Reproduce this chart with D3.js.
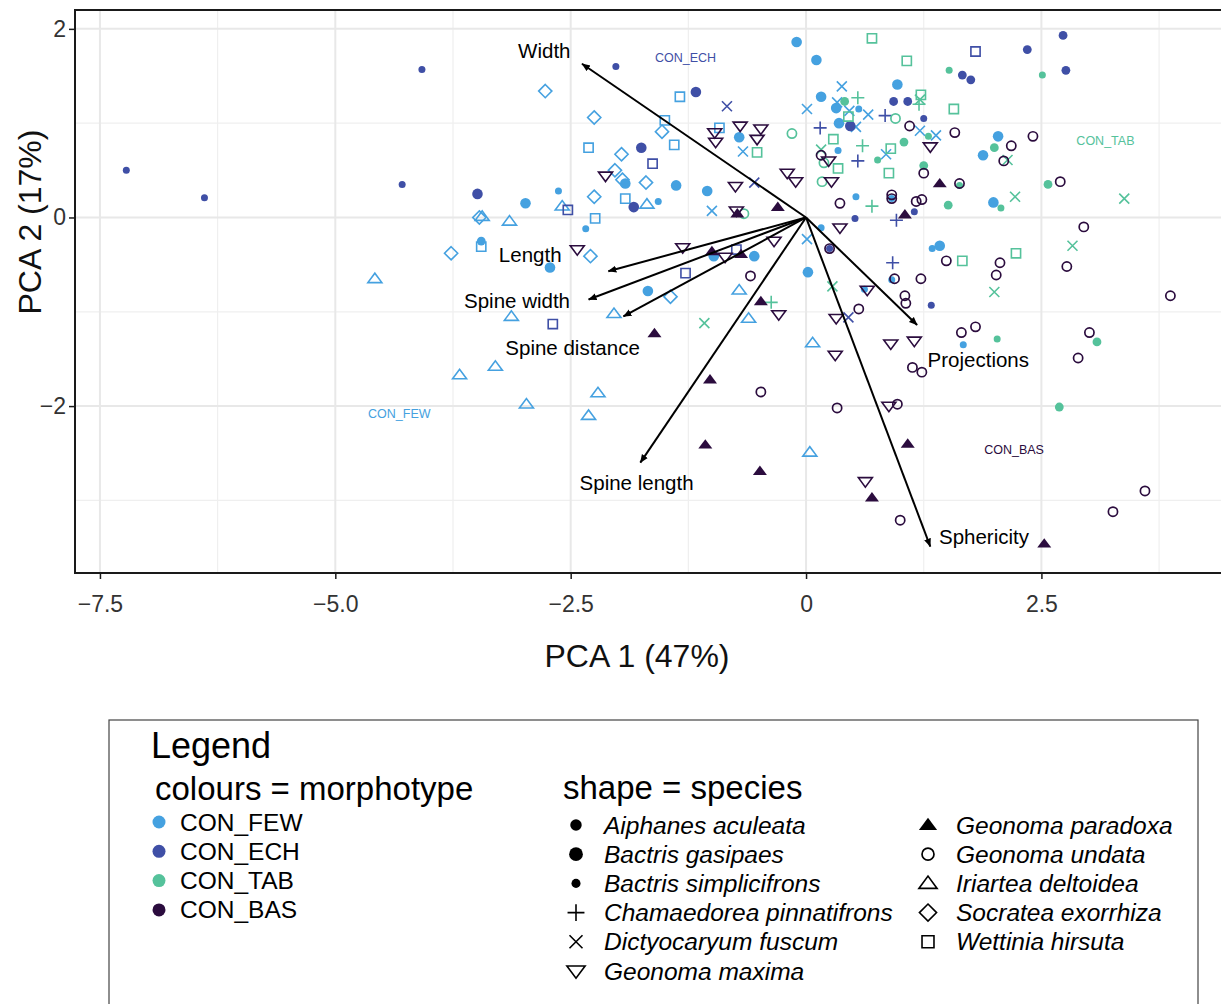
<!DOCTYPE html>
<html>
<head>
<meta charset="utf-8">
<script src="https://cdn.jsdelivr.net/npm/d3@7"></script>
<style>
  body { margin: 0; background: #fff; }
  svg text { font-family: "Liberation Sans", Arial, Helvetica, sans-serif; }
</style>
</head>
<body>
<svg id="PCA_PLOT" width="1221" height="1004"></svg>
<script>
// morphotypes (colour) and species (shape)
var morphotypes = ["CON_FEW", "CON_ECH", "CON_TAB", "CON_BAS"];
var morphColors = ["#45a1e0", "#3f4fa6", "#55c29b", "#2b0c3e"];

var speciesCodes = ["AA", "BG", "BS", "CP", "DF", "GM", "GP", "GU", "ID", "SE", "WH"];
var speciesNames = [
  "Aiphanes aculeata", "Bactris gasipaes", "Bactris simplicifrons",
  "Chamaedorea pinnatifrons", "Dictyocaryum fuscum", "Geonoma maxima",
  "Geonoma paradoxa", "Geonoma undata", "Iriartea deltoidea",
  "Socratea exorrhiza", "Wettinia hirsuta"
];

// [PC1, PC2, species]
var pointsFEW = [
  [-2.98, 0.15, "BG"], [-2.72, -0.53, "BG"], [-0.10, 1.86, "BG"], [0.11, 1.67, "BG"],
  [-0.71, 0.85, "BG"], [-1.92, 0.36, "BG"], [-1.38, 0.34, "BG"], [-1.05, 0.28, "BG"],
  [-0.98, -0.41, "BG"], [-0.55, -0.41, "BG"], [0.02, -0.58, "BG"], [-1.68, -0.78, "BG"],
  [0.97, 1.41, "BG"], [0.16, 1.28, "BG"], [0.32, 1.16, "BG"], [0.35, 1.00, "BG"],
  [2.04, 0.86, "BG"], [1.88, 0.66, "BG"], [1.99, 0.16, "BG"], [1.42, -0.30, "BG"],
  [-3.45, -0.25, "AA"],
  [-2.63, 0.28, "BS"], [-2.34, -0.12, "BS"], [-1.57, 0.17, "BS"], [0.56, 1.15, "BS"],
  [0.34, 0.71, "BS"], [0.53, 0.22, "BS"], [0.91, 0.20, "BS"], [0.16, -0.11, "BS"],
  [1.34, -0.33, "BS"], [0.91, -0.66, "BS"], [0.62, -0.76, "BS"], [1.67, -1.35, "BS"],
  [0.01, 1.15, "DF"], [-0.67, 0.70, "DF"], [-1.00, 0.07, "DF"], [0.01, -0.23, "DF"],
  [0.38, 1.39, "DF"], [0.33, 1.22, "DF"], [0.46, 1.13, "DF"], [0.66, 1.09, "DF"],
  [0.53, 0.96, "DF"], [1.21, 0.92, "DF"], [1.38, 0.87, "DF"], [0.85, 0.67, "DF"],
  [-4.58, -0.65, "ID"], [-2.59, 0.12, "ID"], [-3.44, 0.01, "ID"], [-3.15, -0.04, "ID"],
  [-3.13, -1.05, "ID"], [-3.30, -1.58, "ID"], [-3.68, -1.67, "ID"], [-2.97, -1.98, "ID"],
  [-2.31, -2.10, "ID"], [-2.21, -1.86, "ID"], [-2.04, -1.02, "ID"], [-1.69, 0.14, "ID"],
  [-0.71, -0.77, "ID"], [-0.61, -1.07, "ID"], [0.07, -1.33, "ID"], [0.04, -2.49, "ID"],
  [-2.77, 1.34, "SE"], [-2.25, 1.06, "SE"], [-2.25, 0.22, "SE"], [-3.47, 0.00, "SE"],
  [-3.77, -0.38, "SE"], [-2.29, -0.41, "SE"], [-1.53, 0.91, "SE"], [-1.96, 0.67, "SE"],
  [-2.03, 0.50, "SE"], [-1.95, 0.40, "SE"], [-1.70, 0.37, "SE"], [-1.44, -0.84, "SE"],
  [-2.31, 0.74, "WH"], [-2.24, -0.01, "WH"], [-3.45, -0.31, "WH"], [-1.34, 1.28, "WH"],
  [-1.50, 1.03, "WH"], [-1.40, 0.77, "WH"], [-1.92, 0.20, "WH"], [-0.92, 0.95, "WH"]
];

var pointsECH = [
  [-7.22, 0.50, "BS"], [-6.39, 0.21, "BS"], [-4.29, 0.35, "BS"], [-4.08, 1.57, "BS"],
  [-2.02, 1.60, "BS"], [1.25, 1.05, "BS"], [1.15, 0.06, "BS"], [0.52, -0.01, "BS"],
  [1.33, -0.93, "BS"], [0.25, -0.33, "BS"],
  [1.66, 1.51, "AA"], [1.75, 1.46, "AA"], [0.93, 1.23, "AA"], [1.08, 1.23, "AA"],
  [2.73, 1.93, "AA"], [2.35, 1.78, "AA"], [2.76, 1.56, "AA"],
  [-3.49, 0.25, "BG"], [-1.17, 1.33, "BG"], [-1.75, 0.74, "BG"], [-1.83, 0.11, "BG"],
  [0.47, 0.97, "BG"],
  [-2.53, 0.08, "WH"], [-2.69, -1.13, "WH"], [-1.63, 0.57, "WH"], [-0.74, -0.34, "WH"],
  [-1.28, -0.59, "WH"], [1.80, 1.76, "WH"],
  [-0.84, 1.18, "DF"], [-0.55, 0.37, "DF"], [0.45, -1.06, "DF"],
  [0.84, 1.08, "CP"], [0.15, 0.95, "CP"], [0.55, 0.60, "CP"], [0.96, -0.03, "CP"],
  [0.92, -0.48, "CP"]
];

var pointsTAB = [
  [0.70, 1.90, "WH"], [1.07, 1.66, "WH"], [1.22, 1.30, "WH"], [1.57, 1.15, "WH"],
  [0.45, 1.07, "WH"], [-0.52, 0.69, "WH"], [0.29, 0.83, "WH"], [0.90, 0.73, "WH"],
  [0.34, 0.52, "WH"], [0.88, 0.47, "WH"], [1.66, -0.46, "WH"], [2.23, -0.38, "WH"],
  [0.55, 1.27, "CP"], [1.20, 1.20, "CP"], [0.60, 0.76, "CP"], [0.70, 0.12, "CP"],
  [-0.37, -0.90, "CP"],
  [1.21, 1.25, "DF"], [0.16, 0.72, "DF"], [2.14, 0.61, "DF"], [2.22, 0.22, "DF"],
  [3.38, 0.20, "DF"], [2.83, -0.30, "DF"], [0.28, -0.73, "DF"], [2.00, -0.79, "DF"],
  [-1.08, -1.12, "DF"],
  [0.41, 1.23, "AA"], [1.04, 0.80, "AA"], [1.25, 0.55, "AA"], [1.51, 0.13, "AA"],
  [2.00, 0.74, "AA"], [2.57, 0.35, "AA"], [3.09, -1.32, "AA"], [2.69, -2.01, "AA"],
  [1.52, 1.56, "BS"], [2.51, 1.51, "BS"], [1.30, 0.86, "BS"], [0.76, 0.61, "BS"],
  [2.07, 0.10, "BS"], [2.03, -1.29, "BS"], [1.63, 0.34, "BS"],
  [-0.15, 0.89, "GU"], [-0.66, 0.04, "GU"], [0.95, 1.05, "GU"], [0.19, 0.58, "GU"],
  [0.17, 0.38, "GU"]
];

var pointsBAS = [
  [-2.13, 0.44, "GM"], [-2.43, -0.34, "GM"], [-0.97, 0.90, "GM"], [-0.96, 0.80, "GM"],
  [-0.70, 0.97, "GM"], [-0.48, 0.94, "GM"], [-0.52, 0.83, "GM"], [-0.20, 0.47, "GM"],
  [-0.11, 0.38, "GM"], [-0.75, 0.33, "GM"], [-0.74, 0.07, "GM"], [-1.31, -0.32, "GM"],
  [-0.86, -0.42, "GM"], [-0.34, -0.25, "GM"], [-0.29, -1.03, "GM"], [1.32, 0.75, "GM"],
  [0.24, 0.60, "GM"], [0.27, 0.38, "GM"], [0.36, -0.11, "GM"], [0.65, -0.77, "GM"],
  [0.32, -1.07, "GM"], [0.90, -1.34, "GM"], [1.15, -1.31, "GM"], [0.31, -1.46, "GM"],
  [0.88, -2.00, "GM"], [0.63, -2.80, "GM"],
  [-0.73, 0.04, "GP"], [-0.30, 0.11, "GP"], [-1.00, -0.36, "GP"], [-0.69, -0.39, "GP"],
  [-0.48, -0.89, "GP"], [-1.61, -1.23, "GP"], [-1.02, -1.72, "GP"], [-1.07, -2.41, "GP"],
  [-0.49, -2.69, "GP"], [1.42, 0.36, "GP"], [1.05, 0.03, "GP"], [1.08, -2.40, "GP"],
  [0.70, -2.97, "GP"], [2.53, -3.46, "GP"],
  [-0.59, -0.62, "GU"], [-0.48, -1.85, "GU"], [1.10, 0.97, "GU"], [1.58, 0.90, "GU"],
  [2.18, 0.76, "GU"], [2.10, 0.60, "GU"], [0.16, 0.66, "GU"], [1.25, 0.47, "GU"],
  [1.63, 0.36, "GU"], [0.36, 0.15, "GU"], [0.91, 0.24, "GU"], [0.91, 0.20, "GU"],
  [1.17, 0.17, "GU"], [1.23, 0.19, "GU"], [0.25, -0.33, "GU"], [1.49, -0.46, "GU"],
  [2.06, -0.48, "GU"], [2.02, -0.61, "GU"], [0.94, -0.65, "GU"], [1.22, -0.65, "GU"],
  [1.05, -0.83, "GU"], [1.06, -0.91, "GU"], [0.56, -0.97, "GU"], [1.65, -1.22, "GU"],
  [1.80, -1.16, "GU"], [1.13, -1.59, "GU"], [1.23, -1.64, "GU"], [0.33, -2.02, "GU"],
  [0.97, -1.98, "GU"], [1.00, -3.21, "GU"], [2.41, 0.86, "GU"], [2.70, 0.38, "GU"],
  [2.95, -0.10, "GU"], [2.77, -0.52, "GU"], [3.87, -0.83, "GU"], [3.01, -1.22, "GU"],
  [2.89, -1.49, "GU"], [3.60, -2.90, "GU"], [3.26, -3.12, "GU"]
];

// loading vectors and their label positions
var loadingNames = ["Width", "Length", "Spine width", "Spine distance", "Spine length", "Projections", "Sphericity"];
var loadingPC1 = [-2.38, -2.10, -2.31, -1.94, -1.76, 1.18, 1.32];
var loadingPC2 = [1.63, -0.57, -0.87, -1.05, -2.60, -1.14, -3.49];
var loadingLabelX = [-2.78, -2.93, -3.07, -2.48, -1.80, 1.83, 1.89];
var loadingLabelY = [1.77, -0.39, -0.88, -1.38, -2.81, -1.51, -3.38];

// morphotype label positions
var groupLabelX = [-4.32, -1.28, 3.18, 2.21];
var groupLabelY = [-2.08, 1.69, 0.81, -2.47];

var xTicks = [-7.5, -5.0, -2.5, 0, 2.5];
var xMinor = [-6.25, -3.75, -1.25, 1.25, 3.75];
var yTicks = [2, 0, -2];
var yMinor = [1, -1, -3];

/******** scales ********/
var x = d3.scaleLinear().domain([-7.765, 4.62]).range([75, 1241]);
var y = d3.scaleLinear().domain([-3.77, 2.2]).range([573, 10]);
var color = d3.scaleOrdinal().domain(morphotypes).range(morphColors);

var svg = d3.select("#PCA_PLOT");

// shape path for each species, centred on 0,0
function shapePath(code, k) {
  k = k || 1;
  var t = 7 * k, s = 4.6 * k, d = 6.6 * k, p = 6.5 * k, c = 5 * k;
  if (code == "GM") return "M" + (-t) + "," + (-t * 0.55) + "L" + t + "," + (-t * 0.55) + "L0," + (t * 0.8) + "Z";
  if (code == "GP" || code == "ID") return "M" + (-t) + "," + (t * 0.55) + "L" + t + "," + (t * 0.55) + "L0," + (-t * 0.8) + "Z";
  if (code == "WH") return "M" + (-s) + "," + (-s) + "H" + s + "V" + s + "H" + (-s) + "Z";
  if (code == "SE") return "M0," + (-d) + "L" + d + ",0L0," + d + "L" + (-d) + ",0Z";
  if (code == "CP") return "M" + (-p) + ",0H" + p + "M0," + (-p) + "V" + p;
  if (code == "DF") return "M" + (-c) + "," + (-c) + "L" + c + "," + c + "M" + (-c) + "," + c + "L" + c + "," + (-c);
  return null;
}
var circleR = { AA: 4.4, BG: 5.3, BS: 3.5, GU: 4.6 };

function drawSymbol(g, code, col, k) {
  k = k || 1;
  if (code == "AA" || code == "BG" || code == "BS") {
    g.append("circle").attr("r", circleR[code] * k).attr("fill", col);
  } else if (code == "GU") {
    g.append("circle").attr("r", circleR[code] * k).attr("fill", "none")
      .attr("stroke", col).attr("stroke-width", 1.7);
  } else if (code == "GP") {
    g.append("path").attr("d", shapePath(code, k)).attr("fill", col);
  } else {
    g.append("path").attr("d", shapePath(code, k)).attr("fill", "none")
      .attr("stroke", col).attr("stroke-width", 1.6);
  }
}

/******** panel + grid ********/
var panel = svg.append("g");
panel.append("rect").attr("x", 75).attr("y", 10).attr("width", 1160).attr("height", 563).attr("fill", "#fff");

panel.selectAll("line.xminor").data(xMinor).join("line")
  .attr("x1", function (d) { return x(d); }).attr("x2", function (d) { return x(d); })
  .attr("y1", 10).attr("y2", 573).attr("stroke", "#efefef").attr("stroke-width", 1.2);
panel.selectAll("line.yminor").data(yMinor).join("line")
  .attr("y1", function (d) { return y(d); }).attr("y2", function (d) { return y(d); })
  .attr("x1", 75).attr("x2", 1235).attr("stroke", "#efefef").attr("stroke-width", 1.2);
panel.selectAll("line.xmajor").data(xTicks).join("line")
  .attr("x1", function (d) { return x(d); }).attr("x2", function (d) { return x(d); })
  .attr("y1", 10).attr("y2", 573).attr("stroke", "#e8e8e8").attr("stroke-width", 2);
panel.selectAll("line.ymajor").data(yTicks).join("line")
  .attr("y1", function (d) { return y(d); }).attr("y2", function (d) { return y(d); })
  .attr("x1", 75).attr("x2", 1235).attr("stroke", "#e8e8e8").attr("stroke-width", 2);

/******** points ********/
var allGroups = [pointsFEW, pointsECH, pointsTAB, pointsBAS];
var pts = svg.append("g");
allGroups.forEach(function (arr, i) {
  arr.forEach(function (p) {
    var g = pts.append("g").attr("transform", "translate(" + x(p[0]) + "," + y(p[1]) + ")");
    drawSymbol(g, p[2], color(morphotypes[i]));
  });
});

/******** loadings ********/
svg.append("defs").append("marker")
  .attr("id", "arrowhead")
  .attr("markerUnits", "userSpaceOnUse")
  .attr("markerWidth", 10).attr("markerHeight", 10)
  .attr("refX", 8).attr("refY", 4)
  .attr("orient", "auto")
  .append("path").attr("d", "M0,0.5L8.5,4L0,7.5Z").attr("fill", "#000");

var ld = svg.append("g");
loadingNames.forEach(function (name, i) {
  ld.append("line")
    .attr("x1", x(0)).attr("y1", y(0))
    .attr("x2", x(loadingPC1[i])).attr("y2", y(loadingPC2[i]))
    .attr("stroke", "#000").attr("stroke-width", 2)
    .attr("marker-end", "url(#arrowhead)");
  ld.append("text")
    .attr("x", x(loadingLabelX[i])).attr("y", y(loadingLabelY[i]))
    .attr("text-anchor", "middle").attr("dominant-baseline", "central")
    .attr("font-size", 20.5).attr("fill", "#000").text(name);
});

morphotypes.forEach(function (m, i) {
  svg.append("text")
    .attr("x", x(groupLabelX[i])).attr("y", y(groupLabelY[i]))
    .attr("text-anchor", "middle").attr("dominant-baseline", "central")
    .attr("font-size", 12.5).attr("fill", color(m)).text(m);
});

/******** border + axes ********/
svg.append("path").attr("d", "M1235,10H75V573H1235")
  .attr("fill", "none").attr("stroke", "#1a1a1a").attr("stroke-width", 2);

var xAxis = svg.append("g").attr("transform", "translate(0,573)")
  .call(d3.axisBottom(x).tickValues(xTicks).tickSize(6)
    .tickFormat(function (d) { return d == 0 ? "0" : d3.format(".1f")(d).replace("-", "\u2212"); }));
xAxis.select(".domain").remove();
xAxis.selectAll("line").attr("stroke", "#1a1a1a").attr("stroke-width", 1.5);
xAxis.selectAll("text").attr("font-size", 23).attr("fill", "#333").attr("dy", "1.3em")
  .style("font-family", "Liberation Sans, Arial, sans-serif");

var yAxis = svg.append("g").attr("transform", "translate(75,0)")
  .call(d3.axisLeft(y).tickValues(yTicks).tickSize(6)
    .tickFormat(function (d) { return String(d).replace("-", "\u2212"); }));
yAxis.select(".domain").remove();
yAxis.selectAll("line").attr("stroke", "#1a1a1a").attr("stroke-width", 1.5);
yAxis.selectAll("text").attr("font-size", 23).attr("fill", "#333")
  .style("font-family", "Liberation Sans, Arial, sans-serif");

svg.append("text").attr("x", 637).attr("y", 667).attr("text-anchor", "middle")
  .attr("font-size", 32).attr("fill", "#111").text("PCA 1 (47%)");
svg.append("text").attr("transform", "translate(41,222) rotate(-90)").attr("text-anchor", "middle")
  .attr("font-size", 32).attr("fill", "#111").text("PCA 2 (17%)");

/******** legend ********/
var lg = svg.append("g");
lg.append("rect").attr("x", 109).attr("y", 720).attr("width", 1089).attr("height", 320)
  .attr("fill", "#fff").attr("stroke", "#444").attr("stroke-width", 1.2);
lg.append("text").attr("x", 151).attr("y", 758).attr("font-size", 36).attr("fill", "#000").text("Legend");
lg.append("text").attr("x", 155).attr("y", 800).attr("font-size", 33).attr("fill", "#000").text("colours = morphotype");
lg.append("text").attr("x", 563).attr("y", 799).attr("font-size", 33).attr("fill", "#000").text("shape = species");

morphotypes.forEach(function (m, i) {
  var yy = 822 + i * 29.3;
  lg.append("circle").attr("cx", 159).attr("cy", yy).attr("r", 6.5).attr("fill", color(m));
  lg.append("text").attr("x", 180).attr("y", yy).attr("dominant-baseline", "central")
    .attr("font-size", 24.5).attr("fill", "#000").text(m);
});

speciesCodes.forEach(function (code, i) {
  var col = i < 6 ? 0 : 1;
  var row = i < 6 ? i : i - 6;
  var sx = col == 0 ? 576 : 928;
  var yy = 825 + row * 29.2;
  var g = lg.append("g").attr("transform", "translate(" + sx + "," + yy + ")");
  drawSymbol(g, code, "#000", 1.3);
  lg.append("text").attr("x", sx + 28).attr("y", yy).attr("dominant-baseline", "central")
    .attr("font-size", 24.5).attr("font-style", "italic").attr("fill", "#000").text(speciesNames[i]);
});
</script>
</body>
</html>
